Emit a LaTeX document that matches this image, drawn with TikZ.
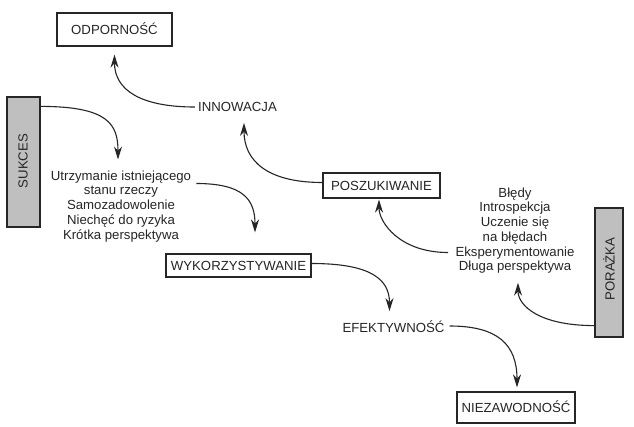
\documentclass[tikz,border=0pt]{standalone}
\usepackage{fontspec}
\setmainfont{Liberation Sans}
\usetikzlibrary{arrows.meta,calc}
\definecolor{ink}{gray}{0.15}
\definecolor{shade}{gray}{0.75}
\begin{document}
\begin{tikzpicture}[x=1pt,y=-1pt,
  lab/.style={font=\fontsize{13.2}{14.7}\selectfont, text=ink},
  capt/.style={lab, text height=9.4pt, text depth=0pt, inner sep=3pt},
  box/.style={capt, draw=ink, line width=1.2pt},
  gbox/.style={draw=ink, line width=1.2pt, fill=shade, inner sep=0pt},
  blk/.style={lab, align=center, inner sep=0pt, anchor=north},
  arr/.style={draw=ink, line width=1.1pt, -{Stealth[length=13pt,width=8pt]}}
]
\useasboundingbox[fill=white] (0,0) rectangle (634,426);

% boxes
\node[box, minimum width=115pt, minimum height=33pt] (odp) at (114.5,29.5) {ODPORNOŚĆ};
\node[box, minimum width=117pt, minimum height=25pt] (posz) at (381.5,185.5) {POSZUKIWANIE};
\node[box, minimum width=145pt, minimum height=23pt] (wyk) at (238.5,265.5) {WYKORZYSTYWANIE};
\node[box, minimum width=118pt, minimum height=31pt] (niez) at (516,407.5) {NIEZAWODNOŚĆ};

% side boxes
\node[gbox, minimum width=33pt, minimum height=130pt] (sukces) at (23.5,162) {};
\node[capt, rotate=90] (sukcest) at (23,161) {SUKCES};
\node[gbox, minimum width=28pt, minimum height=129pt] (porazka) at (609,272.5) {};
\node[capt, rotate=90] (porazkat) at (610,269) {PORAŻKA};

% plain labels
\node[capt] (innow) at (237.5,107) {INNOWACJA};
\node[capt] (efekt) at (393.5,328) {EFEKTYWNOŚĆ};

% text blocks
\node[blk] (ltext) at (121,170.5) {Utrzymanie istniejącego\\stanu rzeczy\\Samozadowolenie\\Niechęć do ryzyka\\Krótka perspektywa};
\node[blk] (rtext) at (515,187.5) {Błędy\\Introspekcja\\Uczenie się\\na błędach\\Eksperymentowanie\\Długa perspektywa};

% connectors
\draw[arr] ($(sukces.north east)+(0,10)$) .. controls +(68,0) and +(0,-35) .. ($(ltext.north)+(-3,-11)$);
\draw[arr] (innow.west) .. controls +(-55,0) and +(0,35) .. ($(odp.south)+(0,8)$);
\draw[arr] ($(posz.west)+(0,-3)$) .. controls +(-55,0) and +(0,38) .. ($(innow.south)+(6.5,8)$);
\draw[arr] ($(ltext.north east)+(5,13)$) .. controls +(47,0) and +(0,-33) .. ($(wyk.north)+(16.5,-21)$);
\draw[arr] ($(wyk.east)+(0,-2)$) .. controls +(59,0) and +(0,-32) .. ($(efekt.north)+(-4,-9)$);
\draw[arr] ($(efekt.east)+(2,-2)$) .. controls +(48,0) and +(0,-43) .. ($(niez.north)+(1,-4)$);
\draw[arr] ($(rtext.north)+(-67,65)$) .. controls +(-48,0) and +(0,23) .. ($(posz.south)+(-2.5,1)$);
\draw[arr] ($(porazka.south west)+(0,-12)$) .. controls +(-55,0) and +(0,23) .. ($(rtext.south)+(3,9)$);
\end{tikzpicture}
\end{document}
